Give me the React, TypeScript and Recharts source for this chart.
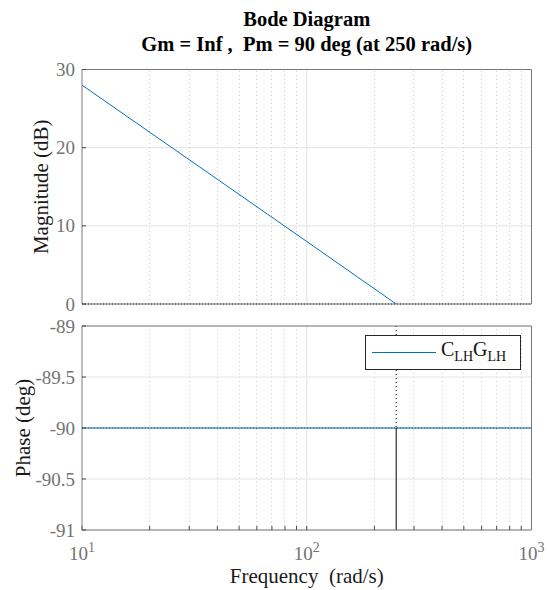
import React from "react";
import {
  LineChart,
  Line,
  XAxis,
  YAxis,
  CartesianGrid,
  ReferenceLine,
  Legend,
} from "recharts";

// frequency axis (rad/s)
const freqTicks = [10, 20, 30, 40, 50, 60, 70, 80, 90, 100, 200, 300, 400, 500, 600, 700, 800, 900, 1000];
const decadeTicks = [10, 100, 1000];
const minorTicks = freqTicks.filter((f) => !decadeTicks.includes(f));

const magTicks = [0, 10, 20, 30];
const phaseTicks = [-91, -90.5, -90, -89.5, -89];

// magnitude curve
const magFreq = [10, 100, 250];
const magDb = [28, 8, 0];

// phase curve
const phaseFreq = [10, 1000];
const phaseDeg = [-90, -90];

const crossoverFreq = 250;
const seriesName = "CLHGLH";

const magData = magFreq.map((f, i) => ({ f, mag: magDb[i] }));
const phaseData = phaseFreq.map((f, i) => ({ f, phase: phaseDeg[i] }));

const FONT = "'Liberation Serif', 'Times New Roman', serif";
const BLUE = "#0072BD";
const AXIS = "#7a7a7a";
const TICKTXT = "#737373";
const GRID = "#e3e3e3";
const MINOR = "#cdcdcd";

const YTick = (props: any) => {
  const { x, y, payload } = props;
  return (
    <text x={x} y={y} dy={6.5} textAnchor="end" fontFamily={FONT} fontSize={19} fill={TICKTXT}>
      {payload.value}
    </text>
  );
};

const XTick = (props: any) => {
  const { x, y, payload } = props;
  if (!decadeTicks.includes(payload.value)) return null;
  const exp = Math.round(Math.log10(payload.value));
  return (
    <text x={x} y={y} textAnchor="middle" fontFamily={FONT} fontSize={19} fill={TICKTXT}>
      <tspan>10</tspan>
      <tspan dy={-8} fontSize={14}>{exp}</tspan>
    </text>
  );
};

const yLabel = (text: string, dx: number) => (props: any) => {
  const vb = props.viewBox;
  const cx = vb.x - dx;
  const cy = vb.y + vb.height / 2;
  return (
    <text
      x={cx}
      y={cy}
      transform={`rotate(-90 ${cx} ${cy})`}
      textAnchor="middle"
      dominantBaseline="central"
      fontFamily={FONT}
      fontSize={21}
      fill="#1a1a1a"
    >
      {text}
    </text>
  );
};

const xLabel = (props: any) => {
  const vb = props.viewBox;
  return (
    <text
      x={vb.x + vb.width / 2}
      y={vb.y + 53}
      textAnchor="middle"
      fontFamily={FONT}
      fontSize={21}
      fill="#1a1a1a"
      style={{ whiteSpace: "pre" }}
    >
      {"Frequency  (rad/s)"}
    </text>
  );
};

const renderLegend = (props: any) => {
  const color = props.payload && props.payload[0] ? props.payload[0].color : BLUE;
  return (
    <div
      style={{
        boxSizing: "border-box",
        width: 156,
        height: 35,
        border: "1px solid #262626",
        background: "#fff",
        display: "flex",
        alignItems: "center",
        fontFamily: FONT,
        fontSize: 20,
        color: "#111",
      }}
    >
      <div style={{ marginLeft: 6, width: 64, borderTop: `1px solid ${color}` }} />
      <span style={{ marginLeft: 5, lineHeight: "20px", whiteSpace: "nowrap" }}>
        C<sub style={{ fontSize: 14, verticalAlign: -5 }}>LH</sub>G
        <sub style={{ fontSize: 14, verticalAlign: -5 }}>LH</sub>
      </span>
    </div>
  );
};

const axisCommon = {
  allowDataOverflow: true,
  interval: 0 as const,
  tickSize: -4,
  tickLine: { stroke: "#444" },
  axisLine: { stroke: AXIS },
};

export default function App() {
  // axes take 1px each, so margins are 1px short of the plot edges
  const margin1 = { top: 68.5, right: 16.5, bottom: 15, left: 81 };
  const margin2 = { top: 8, right: 16.5, bottom: 59, left: 81 };

  return (
    <div style={{ position: "absolute", left: 0, top: 0, width: 549, height: 590, background: "#fff" }}>
      <div
        style={{
          position: "absolute",
          left: 82,
          width: 449.5,
          top: 7,
          textAlign: "center",
          fontFamily: FONT,
          fontWeight: "bold",
          fontSize: 20.5,
          lineHeight: "25px",
          color: "#000",
          whiteSpace: "pre",
        }}
      >
        <div>Bode Diagram</div>
        <div>{"Gm = Inf ,  Pm = 90 deg (at 250 rad/s)"}</div>
      </div>

      {/* magnitude */}
      <div style={{ position: "absolute", left: 0, top: 0 }}>
        <LineChart width={549} height={320} data={magData} margin={margin1}>
          <CartesianGrid vertical={false} stroke={GRID} />
          {minorTicks.map((f) => (
            <ReferenceLine key={f} x={f} stroke={MINOR} strokeDasharray="1 3" shapeRendering="crispEdges" />
          ))}
          <ReferenceLine x={100} stroke={GRID} />
          <XAxis
            {...axisCommon}
            dataKey="f"
            type="number"
            scale="log"
            domain={[10, 1000]}
            ticks={freqTicks}
            height={1}
            tick={false}
          />
          <XAxis
            {...axisCommon}
            xAxisId="top"
            orientation="top"
            type="number"
            scale="log"
            domain={[10, 1000]}
            ticks={freqTicks}
            height={1}
            tick={false}
          />
          <YAxis
            {...axisCommon}
            type="number"
            domain={[0, 30]}
            ticks={magTicks}
            width={1}
            tick={<YTick />}
            tickMargin={11}
            label={{ content: yLabel("Magnitude (dB)", 40) }}
          />
          <YAxis
            {...axisCommon}
            yAxisId="right"
            orientation="right"
            type="number"
            domain={[0, 30]}
            ticks={magTicks}
            width={1}
            tick={false}
          />
          <Line
            type="linear"
            dataKey="mag"
            stroke={BLUE}
            strokeWidth={1}
            dot={false}
            isAnimationActive={false}
          />
          <ReferenceLine y={0} stroke="#000" strokeDasharray="1 2" />
        </LineChart>
      </div>

      {/* phase */}
      <div style={{ position: "absolute", left: 0, top: 317 }}>
        <LineChart width={549} height={273} data={phaseData} margin={margin2}>
          <CartesianGrid vertical={false} stroke={GRID} />
          {minorTicks.map((f) => (
            <ReferenceLine key={f} x={f} stroke={MINOR} strokeDasharray="1 3" shapeRendering="crispEdges" />
          ))}
          <ReferenceLine x={100} stroke={GRID} />
          <XAxis
            {...axisCommon}
            dataKey="f"
            type="number"
            scale="log"
            domain={[10, 1000]}
            ticks={freqTicks}
            height={1}
            tick={<XTick />}
            tickMargin={34}
            label={{ content: xLabel }}
          />
          <XAxis
            {...axisCommon}
            xAxisId="top"
            orientation="top"
            type="number"
            scale="log"
            domain={[10, 1000]}
            ticks={freqTicks}
            height={1}
            tick={false}
          />
          <YAxis
            {...axisCommon}
            type="number"
            domain={[-91, -89]}
            ticks={phaseTicks}
            width={1}
            tick={<YTick />}
            tickMargin={11}
            label={{ content: yLabel("Phase (deg)", 58) }}
          />
          <YAxis
            {...axisCommon}
            yAxisId="right"
            orientation="right"
            type="number"
            domain={[-91, -89]}
            ticks={phaseTicks}
            width={1}
            tick={false}
          />
          <Line
            type="linear"
            dataKey="phase"
            name={seriesName}
            stroke={BLUE}
            strokeWidth={1}
            dot={false}
            isAnimationActive={false}
          />
          <ReferenceLine y={-90} stroke="#000" strokeOpacity={0.5} strokeDasharray="1 2" />
          <ReferenceLine
            segment={[
              { x: crossoverFreq, y: -89 },
              { x: crossoverFreq, y: -90 },
            ]}
            stroke="#000"
            strokeDasharray="1 3"
          />
          <ReferenceLine
            segment={[
              { x: crossoverFreq, y: -90 },
              { x: crossoverFreq, y: -91 },
            ]}
            stroke="#000"
          />
          <Legend
            layout="horizontal"
            verticalAlign="middle"
            align="center"
            content={renderLegend}
            wrapperStyle={{ left: 365, top: 18, width: 156, height: 35 }}
          />
        </LineChart>
      </div>
    </div>
  );
}
